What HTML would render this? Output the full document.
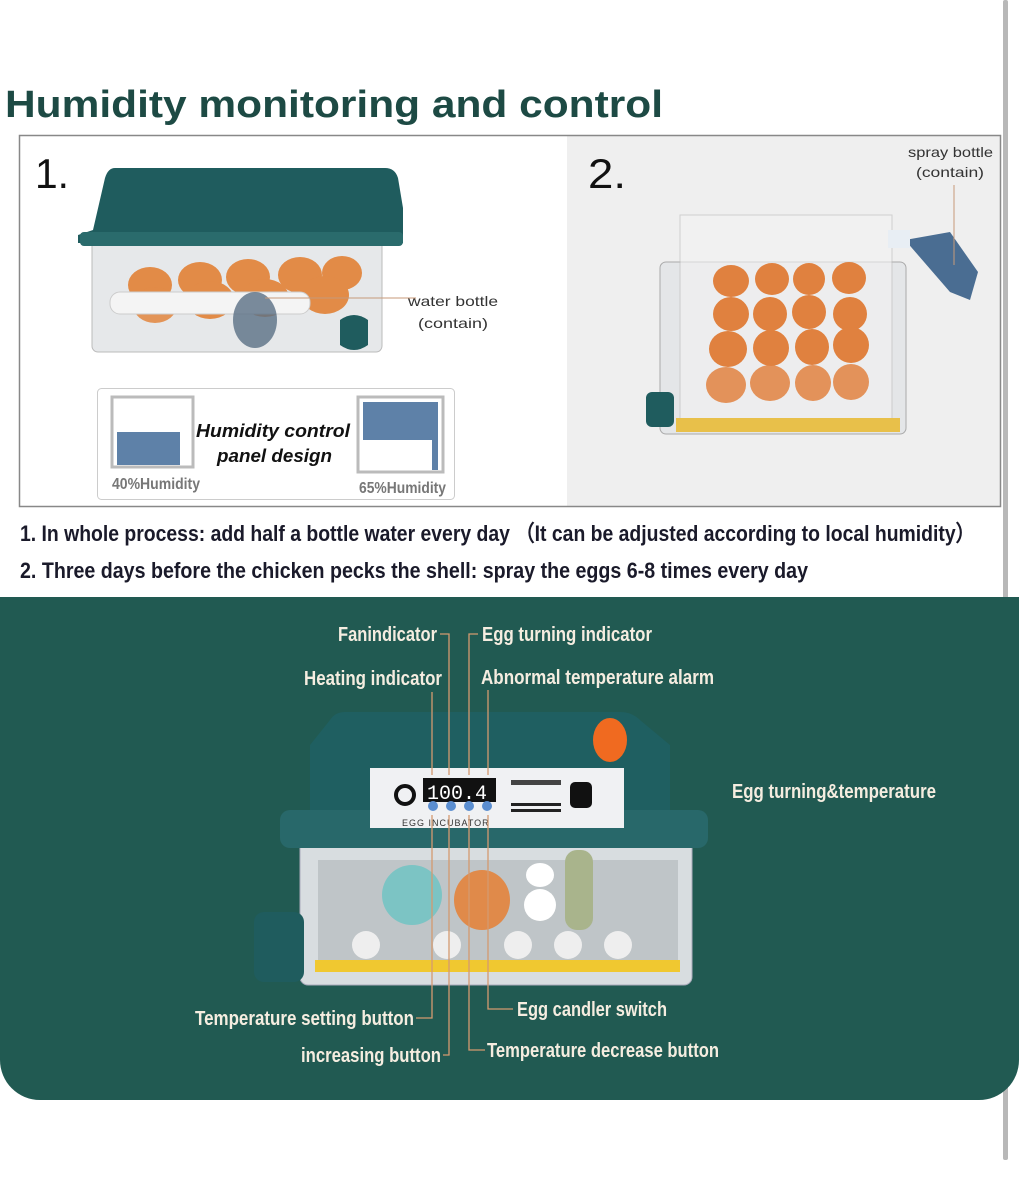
<!DOCTYPE html>
<html><head><meta charset="utf-8"><style>
html,body{margin:0;padding:0;background:#fff;width:1019px;height:1200px;overflow:hidden}
svg{display:block}
.t{font-family:"Liberation Sans",sans-serif;font-weight:bold}
</style></head><body>
<svg width="1019" height="1200" viewBox="0 0 1019 1200" xmlns="http://www.w3.org/2000/svg">
<rect width="1019" height="1200" fill="#fff"/>
<rect x="1003" y="0" width="5" height="1160" rx="2" fill="#b8b8b8"/>
<text x="5" y="117" font-family="Liberation Sans,sans-serif" font-weight="bold" font-size="38" fill="#1d4a44" textLength="658" lengthAdjust="spacingAndGlyphs">Humidity monitoring and control</text>
<rect x="567" y="136" width="433" height="370" fill="#efefef"/>
<rect x="19.5" y="135.5" width="981" height="371" fill="none" stroke="#888" stroke-width="1.5"/>
<text x="35" y="188" font-family="Liberation Sans,sans-serif" font-size="42" fill="#111" textLength="34" lengthAdjust="spacingAndGlyphs">1.</text>
<text x="588" y="188" font-family="Liberation Sans,sans-serif" font-size="42" fill="#111" textLength="38" lengthAdjust="spacingAndGlyphs">2.</text>
<!-- left incubator -->
<rect x="92" y="240" width="290" height="112" rx="6" fill="#e6e8ea" stroke="#bbb"/>
<g fill="#e28b47">
<ellipse cx="150" cy="285" rx="22" ry="18"/><ellipse cx="200" cy="280" rx="22" ry="18"/><ellipse cx="248" cy="277" rx="22" ry="18"/><ellipse cx="300" cy="275" rx="22" ry="18"/><ellipse cx="342" cy="273" rx="20" ry="17"/>
<ellipse cx="155" cy="305" rx="22" ry="18" opacity=".9"/><ellipse cx="210" cy="300" rx="24" ry="19"/><ellipse cx="265" cy="298" rx="24" ry="19"/><ellipse cx="325" cy="295" rx="24" ry="19"/>
</g>
<rect x="110" y="292" width="200" height="22" rx="10" fill="#f4f4f4" stroke="#ccc"/>
<ellipse cx="255" cy="320" rx="22" ry="28" fill="#5a6f84" opacity=".8"/>
<path d="M340 320 q14 -10 28 0 v25 q-14 10 -28 0z" fill="#1f5c5e"/>
<path d="M115 168 h270 q10 0 13 10 l5 30 v35 h-325 v-8 l15 -5 l12 -52 q3 -10 10 -10z" fill="#1f5c5e"/>
<rect x="80" y="232" width="323" height="14" rx="4" fill="#2a6b6c"/>
<line x1="265" y1="298" x2="416" y2="298" stroke="#c79a7a"/>
<text x="408" y="306" font-family="Liberation Sans,sans-serif" font-size="14" fill="#333" textLength="90" lengthAdjust="spacingAndGlyphs">water bottle</text>
<text x="418" y="328" font-family="Liberation Sans,sans-serif" font-size="14" fill="#333" textLength="70" lengthAdjust="spacingAndGlyphs">(contain)</text>
<!-- humidity panel -->
<rect x="97.5" y="388.5" width="357" height="111" rx="4" fill="#fff" stroke="#ccc"/>
<rect x="112" y="397" width="81" height="70" fill="#fff" stroke="#bbb" stroke-width="3"/>
<rect x="117" y="432" width="63" height="33" fill="#5e81a8"/>
<rect x="358" y="397" width="85" height="75" fill="#fff" stroke="#bbb" stroke-width="3"/>
<rect x="363" y="402" width="75" height="38" fill="#5e81a8"/>
<rect x="432" y="440" width="6" height="30" fill="#5e81a8"/>
<text x="196" y="437" font-family="Liberation Sans,sans-serif" font-weight="bold" font-style="italic" font-size="18" fill="#111" textLength="154" lengthAdjust="spacingAndGlyphs">Humidity control</text>
<text x="217" y="462" font-family="Liberation Sans,sans-serif" font-weight="bold" font-style="italic" font-size="18" fill="#111" textLength="115" lengthAdjust="spacingAndGlyphs">panel design</text>
<text x="112" y="489" class="t" font-size="16" fill="#777" textLength="88" lengthAdjust="spacingAndGlyphs">40%Humidity</text>
<text x="359" y="493" class="t" font-size="16" fill="#777" textLength="87" lengthAdjust="spacingAndGlyphs">65%Humidity</text>
<!-- right tray -->
<rect x="660" y="262" width="246" height="172" rx="6" fill="#e4e6e8" stroke="#aaa"/>
<rect x="680" y="215" width="212" height="210" fill="#f3f3f3" opacity=".6" stroke="#bbb"/>
<rect x="676" y="418" width="224" height="14" fill="#e8c04a"/>
<rect x="646" y="392" width="28" height="35" rx="6" fill="#1f5c5e"/>
<g fill="#e0813f">
<ellipse cx="731" cy="281" rx="18" ry="16"/><ellipse cx="772" cy="279" rx="17" ry="16"/><ellipse cx="809" cy="279" rx="16" ry="16"/><ellipse cx="849" cy="278" rx="17" ry="16"/>
<ellipse cx="731" cy="314" rx="18" ry="17"/><ellipse cx="770" cy="314" rx="17" ry="17"/><ellipse cx="809" cy="312" rx="17" ry="17"/><ellipse cx="850" cy="314" rx="17" ry="17"/>
<ellipse cx="728" cy="349" rx="19" ry="18"/><ellipse cx="771" cy="348" rx="18" ry="18"/><ellipse cx="812" cy="347" rx="17" ry="18"/><ellipse cx="851" cy="345" rx="18" ry="18"/>
<ellipse cx="726" cy="385" rx="20" ry="18" opacity=".85"/><ellipse cx="770" cy="383" rx="20" ry="18" opacity=".85"/><ellipse cx="813" cy="383" rx="18" ry="18" opacity=".85"/><ellipse cx="851" cy="382" rx="18" ry="18" opacity=".85"/>
</g>
<path d="M905 240 l45 -8 l28 40 l-8 28 l-20 -8z" fill="#4a6d92"/>
<rect x="888" y="230" width="22" height="18" fill="#e8eef4"/>
<line x1="954" y1="185" x2="954" y2="265" stroke="#c79a7a"/>
<text x="908" y="157" font-family="Liberation Sans,sans-serif" font-size="14" fill="#333" textLength="85" lengthAdjust="spacingAndGlyphs">spray bottle</text>
<text x="916" y="177" font-family="Liberation Sans,sans-serif" font-size="14" fill="#333" textLength="68" lengthAdjust="spacingAndGlyphs">(contain)</text>
<!-- instructions -->
<text x="20" y="541" class="t" font-size="22" fill="#1a1a2a" textLength="955" lengthAdjust="spacingAndGlyphs">1. In whole process: add half a bottle water every day （It can be adjusted according to local humidity）</text>
<text x="20" y="578" class="t" font-size="22" fill="#1a1a2a" textLength="788" lengthAdjust="spacingAndGlyphs">2. Three days before the chicken pecks the shell: spray the eggs 6-8 times every day</text>
<!-- green panel -->
<path d="M0 597 H1019 V1060 a40 40 0 0 1 -40 40 H40 a40 40 0 0 1 -40 -40z" fill="#215a52"/>
<!-- bottom incubator -->
<rect x="300" y="840" width="392" height="145" rx="8" fill="#d8dde0" stroke="#aab"/>
<rect x="318" y="860" width="360" height="100" fill="#bfc5c8"/>
<ellipse cx="412" cy="895" rx="30" ry="30" fill="#7cc4c4"/><ellipse cx="482" cy="900" rx="28" ry="30" fill="#e08a4a"/>
<ellipse cx="540" cy="905" rx="16" ry="16" fill="#fff"/><ellipse cx="540" cy="875" rx="14" ry="12" fill="#fff"/>
<rect x="565" y="850" width="28" height="80" rx="12" fill="#a9b48c"/>
<g fill="#eee"><circle cx="366" cy="945" r="14"/><circle cx="447" cy="945" r="14"/><circle cx="518" cy="945" r="14"/><circle cx="568" cy="945" r="14"/><circle cx="618" cy="945" r="14"/></g>
<rect x="315" y="960" width="365" height="12" fill="#f0c830"/>
<rect x="254" y="912" width="50" height="70" rx="10" fill="#1f5c5e"/>
<path d="M345 712 h275 q12 0 20 8 l30 25 v70 h-360 v-70 l20 -25 q5 -8 15 -8z" fill="#1f5f61"/>
<rect x="280" y="810" width="428" height="38" rx="10" fill="#28686a"/>
<rect x="370" y="768" width="254" height="60" fill="#f0f1f3"/>
<rect x="423" y="778" width="73" height="24" fill="#111"/>
<text x="427" y="799" font-family="Liberation Mono,monospace" font-size="20" fill="#fff">100.4</text>
<circle cx="405" cy="795" r="9" fill="none" stroke="#111" stroke-width="4"/>
<g fill="#5b8ed0"><circle cx="433" cy="806" r="5"/><circle cx="451" cy="806" r="5"/><circle cx="469" cy="806" r="5"/><circle cx="487" cy="806" r="5"/></g>
<text x="402" y="826" font-family="Liberation Sans,sans-serif" font-size="9" fill="#333" letter-spacing="1">EGG INCUBATOR</text>
<rect x="511" y="780" width="50" height="5" fill="#444"/><rect x="511" y="803" width="50" height="3" fill="#222"/><rect x="511" y="809" width="50" height="3" fill="#222"/>
<rect x="570" y="782" width="22" height="26" rx="5" fill="#111"/>
<ellipse cx="610" cy="740" rx="17" ry="22" fill="#f06a20"/>
<g stroke="#d49a70" stroke-width="1.3" fill="none">
<path d="M440 634 h9 V775"/><path d="M478 634 h-9 V775"/>
<line x1="432" y1="692" x2="432" y2="775"/><line x1="488" y1="690" x2="488" y2="775"/>
<path d="M432 815 V1018 h-16"/><path d="M449 815 V1055 h-6"/><path d="M469 815 V1050 h16"/><path d="M488 815 V1009 h25"/>
</g>
<g class="t" font-size="20" fill="#f5ede0">
<text x="338" y="641" textLength="99" lengthAdjust="spacingAndGlyphs">Fanindicator</text>
<text x="482" y="641" textLength="170" lengthAdjust="spacingAndGlyphs">Egg turning indicator</text>
<text x="304" y="685" textLength="138" lengthAdjust="spacingAndGlyphs">Heating indicator</text>
<text x="481" y="684" textLength="233" lengthAdjust="spacingAndGlyphs">Abnormal temperature alarm</text>
<text x="732" y="798" textLength="204" lengthAdjust="spacingAndGlyphs">Egg turning&amp;temperature</text>
<text x="195" y="1025" textLength="219" lengthAdjust="spacingAndGlyphs">Temperature setting button</text>
<text x="301" y="1062" textLength="140" lengthAdjust="spacingAndGlyphs">increasing button</text>
<text x="517" y="1016" textLength="150" lengthAdjust="spacingAndGlyphs">Egg candler switch</text>
<text x="487" y="1057" textLength="232" lengthAdjust="spacingAndGlyphs">Temperature decrease button</text>
</g>
</svg>
</body></html>
